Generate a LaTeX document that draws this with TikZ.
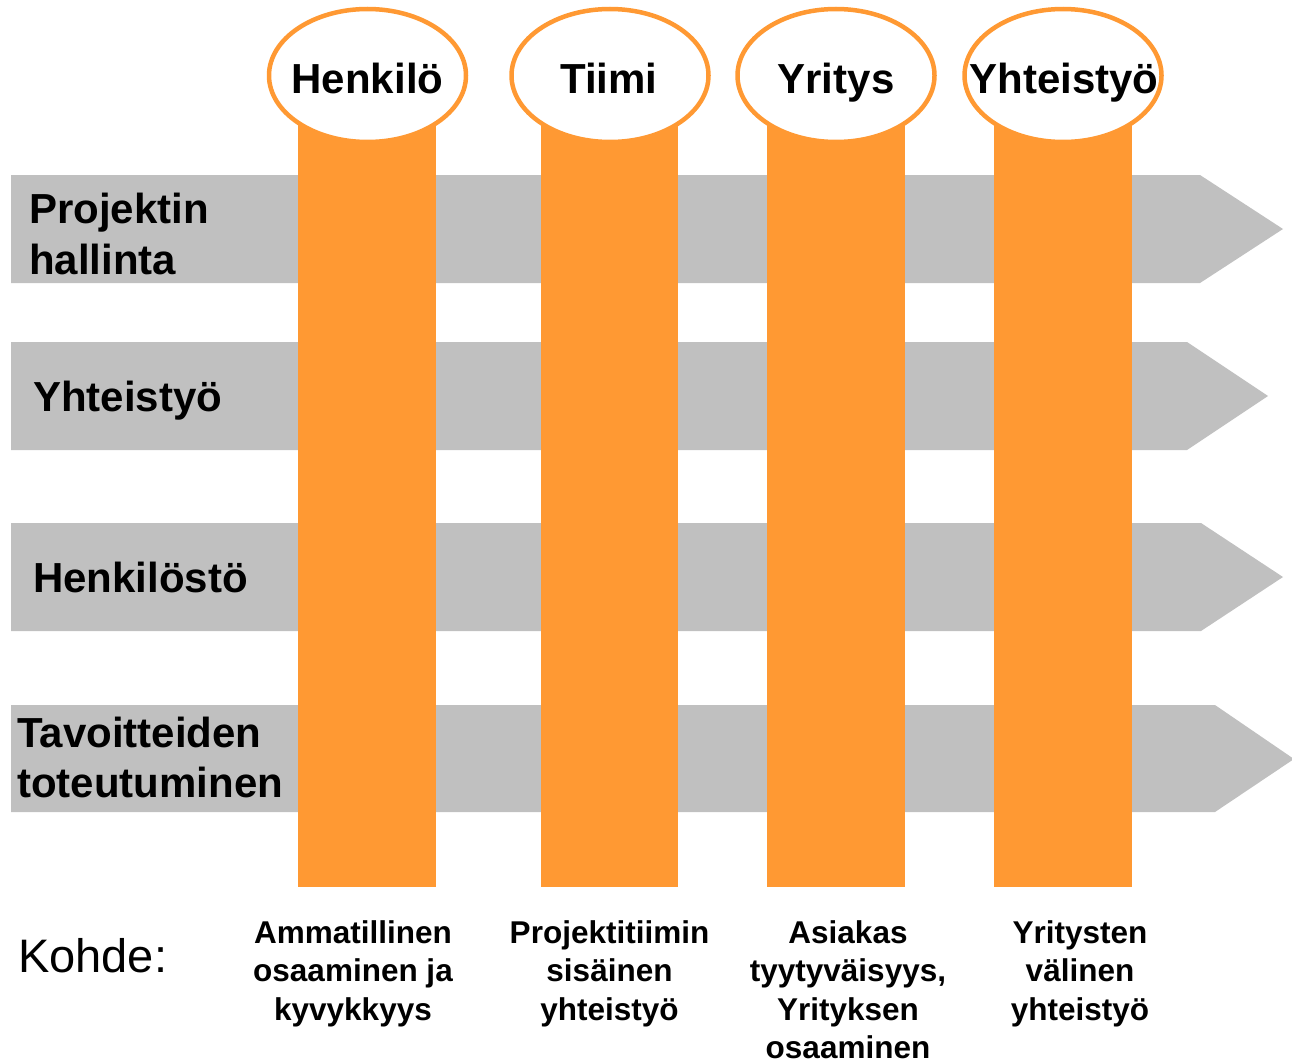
\documentclass[tikz,border=0pt]{standalone}
\usepackage{fontspec}
\setmainfont{Liberation Sans}
\usetikzlibrary{shapes.geometric}
\definecolor{bandgray}{HTML}{C0C0C0}
\definecolor{pillar}{HTML}{FF9933}
\begin{document}
\begin{tikzpicture}[x=1pt,y=-1pt,
  band/.style={fill=bandgray,draw=none},
  pillarbox/.style={fill=pillar,draw=none},
  head/.style={ellipse,draw=pillar,line width=4.5pt,fill=white,minimum width=197pt,minimum height=133pt,inner sep=0pt},
  headtxt/.style={font=\bfseries\fontsize{42}{50}\selectfont,anchor=base,inner sep=0pt},
  rowlbl/.style={font=\bfseries\fontsize{42}{51}\selectfont,anchor=base west,align=left,inner sep=0pt},
  goal/.style={font=\bfseries\fontsize{31.5}{38.5}\selectfont,anchor=base,align=center,inner sep=0pt}]
\useasboundingbox (0,0) rectangle (1292,1060);
\clip (0,0) rectangle (1292,1060);
% grey arrows
\fill[band] (11,175) -- (1200,175) -- (1283,229) -- (1200,283) -- (11,283) -- cycle;
\fill[band] (11,342) -- (1187,342) -- (1268,396) -- (1187,450) -- (11,450) -- cycle;
\fill[band] (11,523) -- (1201,523) -- (1283,577) -- (1201,631) -- (11,631) -- cycle;
\fill[band] (11,705) -- (1215,705) -- (1294,759) -- (1215,812) -- (11,812) -- cycle;
% row labels (base = last line)
\node[rowlbl] (r1) at (29,274) {Projektin\\hallinta};
\node[rowlbl] (r2) at (33,411) {Yhteistyö};
\node[rowlbl] (r3) at (33,592) {Henkilöstö};
\node[rowlbl,font=\bfseries\fontsize{42}{50}\selectfont] (r4) at (17,797) {Tavoitteiden\\toteutuminen};
% pillars
\fill[pillarbox] (298,110) rectangle (436,887);
\fill[pillarbox] (541,110) rectangle (678,887);
\fill[pillarbox] (767,110) rectangle (905,887);
\fill[pillarbox] (994,110) rectangle (1132,887);
% heads
\node[head] (h1) at (367.5,75.5) {};
\node[head] (h2) at (610,75.5) {};
\node[head] (h3) at (836,75.5) {};
\node[head] (h4) at (1063,75.5) {};
\node[headtxt] (t1) at (367.5,93) {Henkilö};
\node[headtxt] (t2) at (609,93) {Tiimi};
\node[headtxt] (t3) at (836,93) {Yritys};
\node[headtxt] (t4) at (1064,93) {Yhteistyö};
% bottom
\node[font=\fontsize{47}{56}\selectfont,anchor=base west,inner sep=0pt] (k) at (18,972) {Kohde:};
\node[goal] (g1) at (353,1020) {Ammatillinen\\osaaminen ja\\kyvykkyys};
\node[goal] (g2) at (609.5,1020) {Projektitiimin\\sisäinen\\yhteistyö};
\node[goal] (g3) at (848,1058.5) {Asiakas\\tyytyväisyys,\\Yrityksen\\osaaminen};
\node[goal] (g4) at (1080,1020) {Yritysten\\välinen\\yhteistyö};
\end{tikzpicture}
\end{document}
